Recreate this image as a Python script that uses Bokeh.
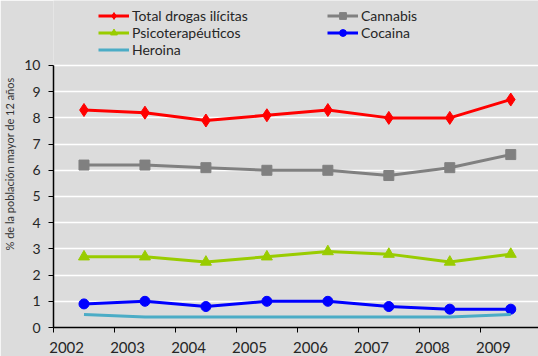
from bokeh.plotting import figure
from bokeh.models import Range1d, FixedTicker, Legend, LegendItem, LinearAxis
from bokeh.embed import file_html
from bokeh.resources import INLINE

years = [2002, 2003, 2004, 2005, 2006, 2007, 2008, 2009]
year_labels = ["2002", "2003", "2004", "2005", "2006", "2007", "2008", "2009"]
total = [8.3, 8.2, 7.9, 8.1, 8.3, 8.0, 8.0, 8.7]
cannabis = [6.2, 6.2, 6.1, 6.0, 6.0, 5.8, 6.1, 6.6]
psico = [2.7, 2.7, 2.5, 2.7, 2.9, 2.8, 2.5, 2.8]
cocaina = [0.9, 1.0, 0.8, 1.0, 1.0, 0.8, 0.7, 0.7]
heroina = [0.5, 0.4, 0.4, 0.4, 0.4, 0.4, 0.4, 0.5]
y_ticks = [0, 1, 2, 3, 4, 5, 6, 7, 8, 9, 10]

FONT = "Lato"
BG = "#DCDCDC"
TXT = "#262626"

x = [y + 0.5 for y in years]
label_pos = [y + 0.215 for y in years]

p = figure(width=538, height=356, output_backend="svg", toolbar_location=None,
           x_range=Range1d(2002, 2009.955), y_range=Range1d(0, 12.48),
           x_axis_location=None,
           min_border_left=52, min_border_right=0, min_border_top=0, min_border_bottom=29)
p.background_fill_color = BG
p.border_fill_color = BG
p.outline_line_color = None

p.xgrid.grid_line_color = None
p.ygrid.grid_line_color = "white"
p.ygrid.grid_line_width = 1.5

# x axis: tick marks at year boundaries (minor ticks), labels offset as in the reference
xa = LinearAxis(ticker=FixedTicker(ticks=label_pos, minor_ticks=years),
                major_label_overrides={pos: lab for pos, lab in zip(label_pos, year_labels)})
xa.axis_line_color = "black"
xa.axis_line_width = 1.5
xa.major_tick_line_color = None
xa.major_tick_out = 0
xa.major_tick_in = 0
xa.minor_tick_line_color = "black"
xa.minor_tick_line_width = 1
xa.minor_tick_out = 5
xa.minor_tick_in = 0
xa.major_label_standoff = 9
xa.major_label_text_font = FONT
xa.major_label_text_font_size = "15px"
xa.major_label_text_color = TXT
p.add_layout(xa, "below")

p.yaxis.ticker = FixedTicker(ticks=y_ticks)
p.yaxis.bounds = (0, 10)
ya = p.yaxis[0]
ya.axis_line_color = "black"
ya.axis_line_width = 1.5
ya.major_tick_line_color = "black"
ya.major_tick_out = 5
ya.major_tick_in = 0
ya.minor_tick_line_color = None
ya.major_label_text_font = FONT
ya.major_label_text_font_size = "14px"
ya.major_label_text_color = TXT
ya.major_label_standoff = 8
ya.axis_label = "% de la población mayor de 12 años"
ya.axis_label_text_font = FONT
ya.axis_label_text_font_size = "11px"
ya.axis_label_text_font_style = "normal"
ya.axis_label_text_color = "#333333"
ya.axis_label_standoff = 5

lw = 3
r_total_l = p.line(x, total, line_color="#FF0000", line_width=lw)
r_total_m = p.scatter(x, total, marker="diamond", size=13,
                      fill_color="#FF0000", line_color="#FF0000")
r_can_l = p.line(x, cannabis, line_color="#808080", line_width=lw)
r_can_m = p.scatter(x, cannabis, marker="square", size=10, fill_color="#808080", line_color="#808080")
r_psi_l = p.line(x, psico, line_color="#99CC00", line_width=lw)
r_psi_m = p.scatter(x, psico, marker="triangle", size=11, fill_color="#99CC00", line_color="#99CC00")
r_coc_l = p.line(x, cocaina, line_color="#0000FF", line_width=lw)
r_coc_m = p.scatter(x, cocaina, marker="circle", size=10, fill_color="#0000FF", line_color="#0000FF")
r_her_l = p.line(x, heroina, line_color="#4BACC6", line_width=lw)


def make_legend(items, loc):
    lg = Legend(items=items, location=loc, orientation="vertical")
    lg.background_fill_alpha = 0
    lg.border_line_alpha = 0
    lg.padding = 0
    lg.margin = 0
    lg.spacing = 0
    lg.glyph_width = 31
    lg.glyph_height = 17
    lg.label_height = 17
    lg.label_standoff = 3
    lg.label_text_font = FONT
    lg.label_text_font_size = "14px"
    lg.label_text_color = TXT
    return lg


leg_a = make_legend([
    LegendItem(label="Total drogas ilícitas", renderers=[r_total_l, r_total_m]),
    LegendItem(label="Psicoterapéuticos", renderers=[r_psi_l, r_psi_m]),
    LegendItem(label="Heroina", renderers=[r_her_l]),
], (45, 269.5))
leg_b = make_legend([
    LegendItem(label="Cannabis", renderers=[r_can_l, r_can_m]),
    LegendItem(label="Cocaina", renderers=[r_coc_l, r_coc_m]),
], (274, 286.5))
p.add_layout(leg_a, "center")
p.add_layout(leg_b, "center")

open("out.html", "w").write(file_html(p, INLINE))
